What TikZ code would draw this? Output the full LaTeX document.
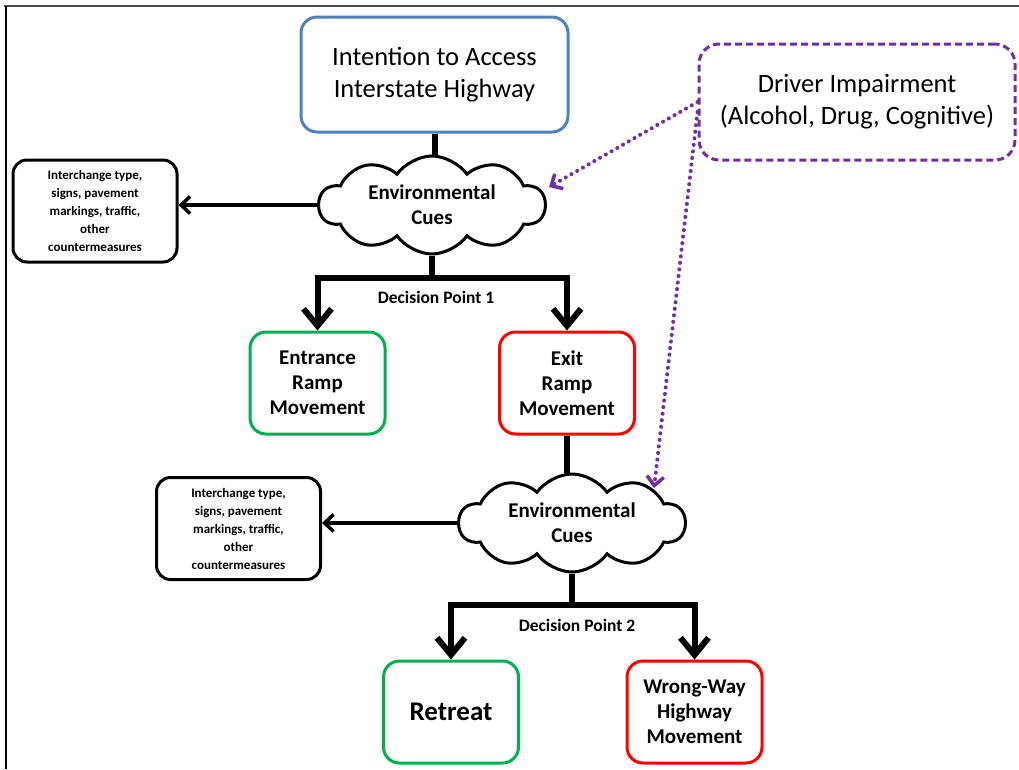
\documentclass[tikz,border=0pt]{standalone}
\usepackage{fontspec}
\setmainfont{Carlito}
\usepackage{xcolor}
\usetikzlibrary{shapes,shapes.symbols,arrows.meta,positioning,calc}

\definecolor{boxblue}{HTML}{4F81BD}
\definecolor{boxgreen}{HTML}{00B050}
\definecolor{boxred}{HTML}{FF0000}
\definecolor{impurple}{HTML}{7030A0}

\begin{document}
\begin{tikzpicture}[
    x=1pt, y=-1pt,
    startbox/.style={rectangle, draw=boxblue, line width=3pt, rounded corners=16pt, minimum width=267pt, minimum height=115pt, align=center, font=\fontsize{26.5}{32}\selectfont},
    impairbox/.style={rectangle, draw=impurple, line width=3pt, dashed, dash pattern=on 7pt off 4pt, rounded corners=20pt, minimum width=316pt, minimum height=116pt, align=center, font=\fontsize{26.5}{32}\selectfont},
    cuebox/.style={rectangle, draw=black, line width=3pt, rounded corners=14pt, minimum width=164pt, minimum height=102pt, align=center, font=\fontsize{13}{18}\selectfont\bfseries},
    goodbox/.style={rectangle, draw=boxgreen, line width=3pt, rounded corners=16pt, minimum width=135pt, minimum height=102pt, align=center, font=\fontsize{21}{25}\selectfont\bfseries},
    badbox/.style={goodbox, draw=boxred},
    envcloud/.style={cloud, cloud puffs=10, cloud puff arc=110, cloud ignores aspect, draw=black, line width=3pt, minimum width=226pt, minimum height=98pt, inner sep=0pt, align=center, font=\fontsize{21}{25}\selectfont\bfseries},
    dplabel/.style={font=\fontsize{17.5}{20}\selectfont\bfseries},
    conn/.style={line width=6pt, draw=black},
    decarrow/.style={conn, -{Straight Barb[length=17pt, width=28pt, line width=6pt]}},
    cuearrow/.style={line width=3.5pt, draw=black, -{Straight Barb[length=9pt, width=17pt, line width=3.5pt]}},
    imparrow/.style={line width=4pt, draw=impurple, line cap=round, dash pattern=on 0.1pt off 6.5pt, -{Straight Barb[length=9pt, width=17pt, line width=3.5pt, line cap=butt]}}
]
    \useasboundingbox (0,0) rectangle (1019,769);
    % frame
    \draw[line width=2pt, draw=black!70] (4,6) -- (1019,6);
    \draw[line width=2pt, draw=black] (6,6) -- (6,769);

    % nodes
    \node (intent) [startbox] at (434.5,74.5) {Intention to Access\\Interstate Highway};
    \node (impair) [impairbox] at (857,102) {Driver Impairment\\(Alcohol, Drug, Cognitive)};
    \node (env1) [envcloud] at (432,205) {Environmental\\Cues};
    \node (cues1) [cuebox] at (95,211) {Interchange type,\\signs, pavement\\markings, traffic,\\other\\countermeasures};
    \node (entr) [goodbox] at (317.5,383) {Entrance\\Ramp\\Movement};
    \node (exit) [badbox] at (567,383) {Exit\\Ramp\\Movement};
    \node (env2) [envcloud] at (572,523) {Environmental\\Cues};
    \node (cues2) [cuebox] at (238.5,528.5) {Interchange type,\\signs, pavement\\markings, traffic,\\other\\countermeasures};
    \node (retreat) [goodbox, font=\fontsize{27}{30}\selectfont\bfseries] at (451,712) {Retreat};
    \node (wrong) [badbox] at (694.5,712) {Wrong-Way\\Highway\\Movement};
    \coordinate (dp1) at (432,278);
    \coordinate (dp2) at (572,605);
    \coordinate (imp1) at ($(env1.center)+(117,-18)$);
    \coordinate (imp2) at ($(env2.center)+(82,-35)$);

    % connectors
    \draw [conn] (intent.south) -- (intent.south |- env1.north);
    \draw [cuearrow] (env1.west) -- (env1.west -| cues1.east);
    \draw [conn] (env1.south) -- ([yshift=3pt]dp1);
    \draw [decarrow] ([xshift=3pt]dp1) -| (entr.north);
    \draw [decarrow] ([xshift=-3pt]dp1) -| (exit.north);
    \node (dp1lbl) [dplabel, below=10pt of dp1, xshift=4pt] {Decision Point 1};

    \draw [conn] (exit.south) -- (exit.south |- env2.north);
    \draw [cuearrow] (env2.west) -- (env2.west -| cues2.east);
    \draw [conn] (env2.south) -- ([yshift=3pt]dp2);
    \draw [decarrow] ([xshift=3pt]dp2) -| (retreat.north);
    \draw [decarrow] ([xshift=-3pt]dp2) -| (wrong.north);
    \node (dp2lbl) [dplabel, below=11pt of dp2, xshift=5pt] {Decision Point 2};

    \draw [imparrow] (impair.west) -- (imp1);
    \draw [imparrow] ([yshift=-10pt]impair.west) -- (imp2);
\end{tikzpicture}
\end{document}
